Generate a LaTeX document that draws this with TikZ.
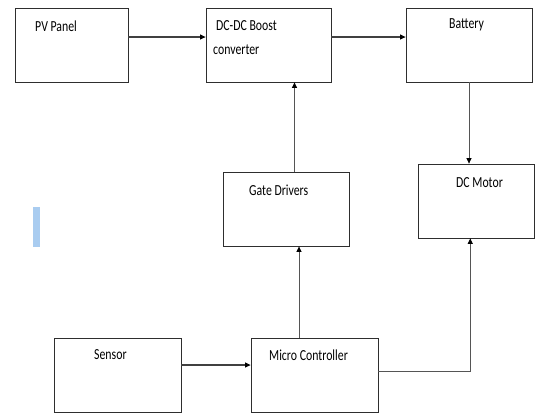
\documentclass[tikz,border=0pt]{standalone}
\usepackage{fontspec}
\setmainfont{Carlito}
\usetikzlibrary{arrows.meta}
\definecolor{boxline}{HTML}{2E2E2E}
\definecolor{conn}{HTML}{404040}
\definecolor{thinconn}{HTML}{555555}
\definecolor{barblue}{HTML}{A9CCF0}
\tikzset{
  box/.style={draw=boxline, line width=0.8pt, rectangle, inner sep=0pt, minimum height=74pt},
  lbl/.style={anchor=west, inner sep=0pt, text=black, font=\fontsize{11.8}{14}\selectfont, yscale=1.3, transform shape},
  arr/.style={draw=conn, line width=1.1pt, -{Triangle[length=5.5pt,width=5pt,color=black]}},
  tarr/.style={draw=thinconn, line width=0.75pt, -{Triangle[length=5.5pt,width=5pt,color=black]}}
}
\begin{document}
\begin{tikzpicture}[x=1pt,y=-1pt]
\useasboundingbox (0,0) rectangle (535,413);
% boxes
\node[box, minimum width=113pt] (pv)  at (71.5,45) {};
\node[box, minimum width=125pt] (dc)  at (268.5,45) {};
\node[box, minimum width=126pt] (bat) at (469,45) {};
\node[box, minimum width=126pt] (gd)  at (286,209) {};
\node[box, minimum width=116.5pt] (mot) at (476.25,201) {};
\node[box, minimum width=127pt] (sen) at (117.5,375) {};
\node[box, minimum width=127pt] (mc)  at (314.5,375) {};
% labels
\node[lbl] (tpv)  at (35,26) {PV Panel};
\node[lbl] (tdc1) at (216,26) {DC-DC Boost};
\node[lbl] (tdc2) at (213,50) {converter};
\node[lbl] (tbat) at (449,25) {Battery};
\node[lbl] (tgd)  at (249,190) {Gate Drivers};
\node[lbl] (tmot) at (456,183) {DC Motor};
\node[lbl] (tsen) at (94,355) {Sensor};
\node[lbl] (tmc)  at (269,355) {Micro Controller};
% connectors
\draw[arr] ([yshift=8pt]pv.east) -- ([yshift=8pt]dc.west);
\draw[arr] ([yshift=8pt]dc.east) -- ([yshift=8pt]bat.west);
\draw[tarr] (bat.south) -- (bat.south |- mot.north);
\draw[tarr] ([xshift=8.5pt]gd.north) -- ([xshift=8.5pt]gd.north |- dc.south);
\draw[tarr] ([xshift=-15.5pt]mc.north) -- ([xshift=-15.5pt]mc.north |- gd.south);
\draw[arr] ([yshift=10pt]sen.east) -- ([yshift=10pt]mc.west);
\coordinate (mbot) at ([xshift=-6pt]mot.south);
\draw[tarr] ([yshift=4pt]mc.east) -| (mbot);
% blue bar
\fill[barblue] (33,207) rectangle (40,247);
\end{tikzpicture}
\end{document}
